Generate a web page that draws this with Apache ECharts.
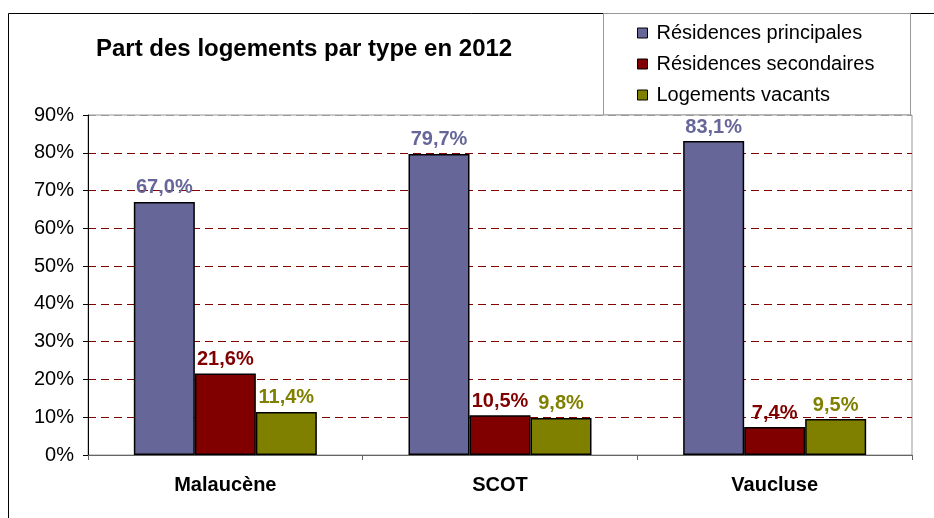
<!DOCTYPE html>
<html><head><meta charset="utf-8">
<script src="https://cdn.jsdelivr.net/npm/echarts@6/dist/echarts.min.js"></script>
<style>html,body{margin:0;padding:0;background:#fff}#c{width:934px;height:518px}</style>
</head><body><div id="c"></div>
<script>
const categories = ['Malaucène', 'SCOT', 'Vaucluse'];
const seriesNames = ['Résidences principales', 'Résidences secondaires', 'Logements vacants'];
const principales = [67.0, 79.7, 83.1];
const secondaires = [21.6, 10.5, 7.4];
const vacants = [11.4, 9.8, 9.5];
const titleText = 'Part des logements par type en 2012';

const colors = ['#666699', '#800000', '#808000'];
const FONT = '"Liberation Sans", Arial, sans-serif';
const allData = [principales, secondaires, vacants];

const chart = echarts.init(document.getElementById('c'), null, {renderer: 'canvas'});
const gridColors = ['#800000','#800000','#800000','#800000','#800000','#800000','#800000','#800000','#800000','#999999'];

chart.setOption({
  animation: false,
  backgroundColor: '#fff',
  textStyle: {fontFamily: FONT},
  title: {
    text: titleText,
    left: 96, top: 37, padding: 0,
    textStyle: {fontSize: 24, fontWeight: 'bold', color: '#000', fontFamily: FONT}
  },
  graphic: [
    {type: 'rect', z: -10, shape: {x: 8.5, y: 13.5, width: 1000, height: 1000},
     style: {fill: 'none', stroke: '#000', lineWidth: 1}},
    {type: 'rect', z: -5, shape: {x: 603.5, y: 13.5, width: 307, height: 101.5},
     style: {fill: '#fff', stroke: '#999', lineWidth: 1}}
  ],
  legend: {
    orient: 'vertical', left: 637, top: 23, padding: 0,
    itemWidth: 10, itemHeight: 10, itemGap: 11,
    icon: 'rect',
    itemStyle: {borderColor: '#000', borderWidth: 1},
    textStyle: {fontSize: 20, lineHeight: 20, color: '#000', fontFamily: FONT, padding: [0,0,0,4]},
    data: seriesNames
  },
  grid: {left: 88, right: 22, top: 115, bottom: 63, show: true, borderColor: '#999', borderWidth: 1, backgroundColor: '#fff'},
  xAxis: {
    type: 'category', data: categories,
    axisLine: {lineStyle: {color: '#666', width: 1}},
    axisTick: {show: true, length: 5, lineStyle: {color: '#666'}},
    axisLabel: {fontSize: 20, fontWeight: 'bold', color: '#000', margin: 20, fontFamily: FONT}
  },
  yAxis: {
    type: 'value', min: 0, max: 90, interval: 10,
    axisLine: {show: true, lineStyle: {color: '#000', width: 1}},
    axisTick: {show: true, length: 5, lineStyle: {color: '#000'}},
    axisLabel: {fontSize: 20, color: '#000', margin: 14, formatter: '{value}%', fontFamily: FONT},
    splitLine: {show: true, lineStyle: {color: gridColors, type: [8, 5], width: 1}}
  },
  series: seriesNames.map((name, i) => ({
    name: name, type: 'bar', data: allData[i],
    barWidth: 61, barGap: '0%',
    itemStyle: {color: colors[i], borderColor: '#000', borderWidth: 1.5},
    label: {
      show: true, position: 'top', distance: 4,
      fontSize: 20, fontWeight: 'bold', color: colors[i], fontFamily: FONT,
      formatter: p => p.value.toFixed(1).replace('.', ',') + '%'
    }
  }))
});
</script></body></html>
